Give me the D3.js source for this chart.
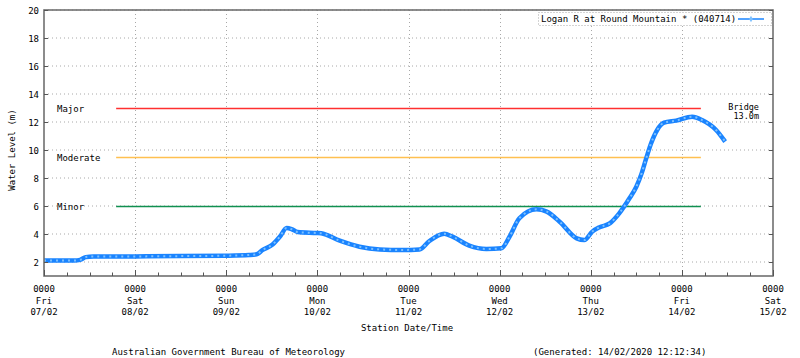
<!DOCTYPE html>
<html><head><meta charset="utf-8">
<script src="https://cdn.jsdelivr.net/npm/d3@7"></script>
<style>
html,body{margin:0;padding:0;background:#fff;}
svg text{font-family:"DejaVu Sans Mono","Liberation Mono",monospace;font-size:9px;fill:#000;}
</style></head>
<body>
<svg id="chart" width="800" height="358"></svg>
<script>
// ---- data (hours since 07/02/2020 00:00, water level in m) ----
const seriesName = "Logan R at Round Mountain * (040714)";
const hours = [0,4,8,9.5,11,13,24,36,48,54,56,57.6,60.2,62.1,63.9,65.2,66.8,71.8,73,77.9,83.1,88.4,94.4,98.9,101.5,105.4,107.6,112,116.5,120.5,122.6,125.2,129.7,132.4,135.8,140.3,142.3,144.4,146.3,149,151.5,154.2,156,157.4,158.6,159.9,161.5,163.3,166.5,170.7,173.3,177,179.4];
const levels = [2.1,2.1,2.1,2.15,2.35,2.4,2.4,2.42,2.45,2.5,2.55,2.86,3.25,3.8,4.43,4.35,4.14,4.07,4.05,3.52,3.09,2.9,2.86,2.9,3.5,4.02,3.81,3.17,2.93,2.98,3.8,5.12,5.76,5.6,4.88,3.69,3.57,4.17,4.48,4.76,5.48,6.55,7.38,8.33,9.4,10.48,11.43,11.95,12.1,12.38,12.14,11.43,10.6];
const thresholdNames = ["Major","Moderate","Minor"];
const thresholdValues = [13,9.5,6];
const thresholdColors = ["#ff3030","#ffc050","#109050"];
const thresholdSpanHours = [19,173];
const dayNames = ["Fri","Sat","Sun","Mon","Tue","Wed","Thu","Fri","Sat"];
const dayDates = ["07/02","08/02","09/02","10/02","11/02","12/02","13/02","14/02","15/02"];
const yTicks = [2,4,6,8,10,12,14,16,18,20];
const bridgeLabel = ["Bridge","13.0m"];
const footerLeft = "Australian Government Bureau of Meteorology";
const footerRight = "(Generated: 14/02/2020 12:12:34)";

const start = new Date(2020,1,7,0,0,0);
const toDate = h => new Date(start.getTime()+h*3600e3);
const data = hours.map((h,i)=>({t:toDate(h),v:levels[i]}));

const svg = d3.select("#chart");
const L=44,R=773,T=10,B=276;
const x = d3.scaleTime().domain([start,toDate(192)]).range([L,R]);
const y = d3.scaleLinear().domain([1,20]).range([B,T]);

// grid
const g = svg.append("g");
g.selectAll(".hg").data(yTicks).join("line")
 .attr("x1",L).attr("x2",R).attr("y1",d=>y(d)).attr("y2",d=>y(d))
 .attr("stroke","#a8a8a8").attr("stroke-width",1).attr("stroke-dasharray","1,3");
const days = d3.range(0,9).map(d=>toDate(d*24));
g.selectAll(".vg").data(days.slice(1,8)).join("line")
 .attr("y1",T).attr("y2",B).attr("x1",d=>Math.round(x(d))+0.5).attr("x2",d=>Math.round(x(d))+0.5)
 .attr("stroke","#a8a8a8").attr("stroke-width",1).attr("stroke-dasharray","1,3");

// threshold lines
thresholdValues.forEach((v,i)=>{
  svg.append("line").attr("x1",x(toDate(thresholdSpanHours[0]))).attr("x2",x(toDate(thresholdSpanHours[1])))
   .attr("y1",Math.round(y(v))+0.5).attr("y2",Math.round(y(v))+0.5)
   .attr("stroke",thresholdColors[i]).attr("stroke-width",1.3);
  svg.append("text").attr("x",L+13).attr("y",y(v)+3.5).text(thresholdNames[i]);
});
svg.append("text").attr("x",759).attr("y",y(13)+1.5).attr("text-anchor","end").style("font-size","8.5px").text(bridgeLabel[0]);
svg.append("text").attr("x",759).attr("y",y(13)+11).attr("text-anchor","end").style("font-size","8.5px").text(bridgeLabel[1]);

// series
const line = d3.line().x(d=>x(d.t)).y(d=>y(d.v)).curve(d3.curveMonotoneX);
svg.append("path").datum(data).attr("d",line).attr("fill","none")
 .attr("stroke","#1a84ff").attr("stroke-width",4.5).attr("stroke-linejoin","round");
svg.append("path").datum(data).attr("d",line).attr("fill","none")
 .attr("stroke","#7cc0ff").attr("stroke-width",2).attr("stroke-dasharray","2,4");

// frame
svg.append("rect").attr("x",L).attr("y",T).attr("width",R-L).attr("height",B-T)
 .attr("fill","none").attr("stroke","#707070").attr("stroke-width",1.6);

// y ticks
yTicks.forEach(v=>{
  const yy=Math.round(y(v))+0.5;
  svg.append("line").attr("x1",L).attr("x2",L+4).attr("y1",yy).attr("y2",yy).attr("stroke","#555");
  svg.append("line").attr("x1",R-4).attr("x2",R).attr("y1",yy).attr("y2",yy).attr("stroke","#555");
  svg.append("text").attr("x",39).attr("y",y(v)+3.5).attr("text-anchor","end").text(v);
});
// x ticks
d3.range(0,193,6).forEach(h=>{
  const xx=Math.round(x(toDate(h)))+0.5;
  const len = h%24===0?6:3.5;
  svg.append("line").attr("x1",xx).attr("x2",xx).attr("y1",B).attr("y2",B-len).attr("stroke","#555");
});
days.forEach((d,i)=>{
  const xx=x(d);
  svg.append("text").attr("x",xx).attr("y",292).attr("text-anchor","middle").text("0000");
  svg.append("text").attr("x",xx).attr("y",303.5).attr("text-anchor","middle").text(dayNames[i]);
  svg.append("text").attr("x",xx).attr("y",315).attr("text-anchor","middle").text(dayDates[i]);
});

// axis titles
svg.append("text").attr("x",407).attr("y",331).attr("text-anchor","middle").text("Station Date/Time");
svg.append("text").attr("transform","translate(15,150) rotate(-90)").attr("text-anchor","middle").text("Water Level (m)");
svg.append("text").attr("x",112).attr("y",355).text(footerLeft);
svg.append("text").attr("x",533).attr("y",355).text(footerRight);

// legend
svg.append("rect").attr("x",538.5).attr("y",12.5).attr("width",233).attr("height",13)
 .attr("fill","#fff").attr("stroke","#a8a8a8").attr("stroke-dasharray","1,2");
svg.append("text").attr("x",541).attr("y",22).text(seriesName);
svg.append("line").attr("x1",738).attr("x2",764).attr("y1",19).attr("y2",19).attr("stroke","#1a84ff").attr("stroke-width",1.5);
svg.append("path").attr("d",d3.symbol(d3.symbolDiamond,12)()).attr("transform","translate(751,19)").attr("fill","#7cc0ff");
</script>
</body></html>
